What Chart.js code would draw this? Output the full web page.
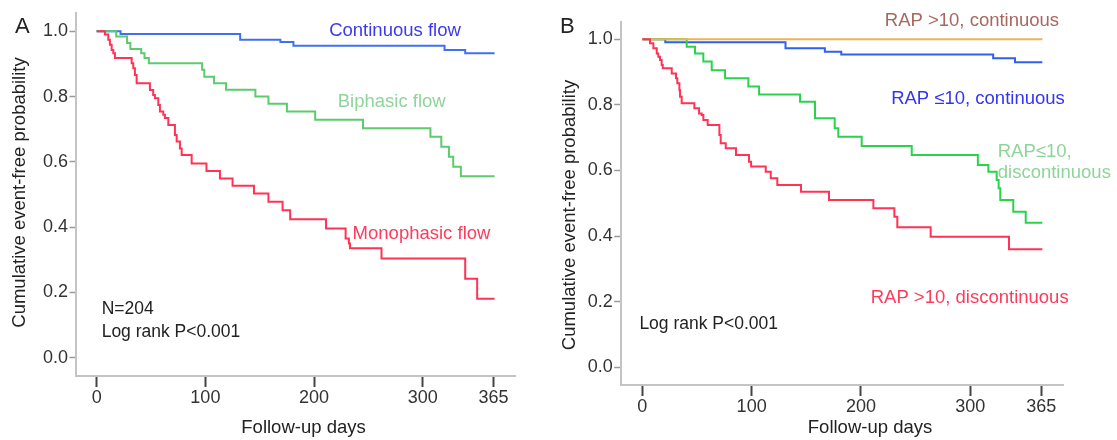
<!DOCTYPE html>
<html><head><meta charset="utf-8">
<script src="https://cdn.jsdelivr.net/npm/chart.js@4.4.1/dist/chart.umd.min.js"></script>
<style>
html,body{margin:0;padding:0;background:#fff;}
#wrap{position:relative;width:1117px;height:440px;overflow:hidden;}
#cA{position:absolute;left:0;top:0;}
#cB{position:absolute;left:548px;top:0;}
</style></head><body>
<div id="wrap">
<canvas id="cA" width="548" height="440"></canvas>
<canvas id="cB" width="569" height="440"></canvas>
</div>
<script>
// ---------- data ----------
const xTicks = [0, 100, 200, 300, 365];
const yTicks = [0, 0.2, 0.4, 0.6, 0.8, 1.0];

// Panel A
const aContinuousDays = [0, 22, 132, 169, 181, 320, 339, 366];
const aContinuousSurv = [1.0, 0.992, 0.974, 0.967, 0.956, 0.943, 0.933, 0.933];

const aBiphasicDays = [0, 18, 28, 31, 41, 44, 48, 97, 99, 108, 119, 146, 158, 175, 201, 245, 307, 317, 324, 328, 335, 366];
const aBiphasicSurv = [1.0, 0.984, 0.964, 0.946, 0.933, 0.918, 0.902, 0.882, 0.861, 0.841, 0.821, 0.800, 0.778, 0.754, 0.729, 0.703, 0.677, 0.646, 0.616, 0.585, 0.556, 0.556];

const aMonophasicDays = [0, 7.6, 10.7, 12.2, 13.8, 15.3, 16.8, 32.2, 33.7, 35.2, 36.8, 49, 52, 53.6, 56.7, 58.2, 61.3, 62.8, 65.9, 72, 73.6, 76.6, 78.2, 87.4, 101, 113.4, 125, 144.7, 158, 171, 178, 211, 229, 232, 233, 262, 339, 350, 366];
const aMonophasicSurv = [1.0, 0.990, 0.974, 0.959, 0.943, 0.933, 0.918, 0.902, 0.887, 0.866, 0.841, 0.820, 0.805, 0.795, 0.774, 0.754, 0.744, 0.734, 0.713, 0.682, 0.662, 0.641, 0.621, 0.595, 0.572, 0.549, 0.527, 0.503, 0.478, 0.452, 0.424, 0.396, 0.365, 0.350, 0.335, 0.304, 0.242, 0.181, 0.181];

// Panel B
const bHighContDays = [0, 366];
const bHighContSurv = [1.0, 1.0];

const bLowContDays = [0, 21, 131, 167, 182, 321, 341, 366];
const bLowContSurv = [1.0, 0.991, 0.973, 0.962, 0.954, 0.942, 0.930, 0.930];

const bLowDiscDays = [0, 40.6, 48.2, 55.8, 63.5, 75.7, 97, 106.8, 144.3, 158, 176, 179.3, 200.7, 246.5, 307, 316.6, 324.2, 326, 327.5, 339.4, 350.8, 366];
const bLowDiscSurv = [1.0, 0.977, 0.957, 0.932, 0.906, 0.881, 0.856, 0.832, 0.810, 0.759, 0.729, 0.703, 0.675, 0.647, 0.617, 0.596, 0.571, 0.546, 0.510, 0.474, 0.441, 0.441];

const bHighDiscDays = [0, 7.0, 10.1, 13.2, 14.6, 16.2, 17.7, 18.7, 26.9, 30.8, 32.0, 33.9, 34.5, 36.0, 47.6, 51.9, 54.3, 55.8, 59.8, 70.5, 71.7, 76.3, 85.7, 97.6, 99.5, 112.9, 117.5, 123.5, 145.2, 170.8, 211.4, 230.6, 233.3, 263.8, 335.5, 366];
const bHighDiscSurv = [1.0, 0.988, 0.973, 0.957, 0.947, 0.937, 0.922, 0.912, 0.896, 0.881, 0.866, 0.845, 0.825, 0.805, 0.790, 0.774, 0.769, 0.754, 0.739, 0.708, 0.683, 0.668, 0.647, 0.627, 0.612, 0.596, 0.576, 0.556, 0.535, 0.510, 0.485, 0.459, 0.427, 0.398, 0.360, 0.360];

// ---------- helpers ----------
const FONT = "'Liberation Sans', Arial, Helvetica, sans-serif";
Chart.defaults.font.family = FONT;

function pts(days, surv) { return days.map((d, i) => ({ x: d, y: surv[i] })); }
function ds(days, surv, color) {
  return { data: pts(days, surv), borderColor: color, borderWidth: 2, stepped: 'before',
           pointRadius: 0, fill: false, tension: 0 };
}
function textPlugin(items) {
  return {
    id: 'texts',
    afterDraw(chart) {
      const ctx = chart.ctx, xs = chart.scales.x, ys = chart.scales.y;
      ctx.save();
      for (const t of items) {
        ctx.font = t.font || ('18.5px ' + FONT);
        ctx.fillStyle = t.color || '#222';
        ctx.textAlign = t.align || 'left';
        ctx.textBaseline = 'alphabetic';
        const x = (t.px !== undefined) ? t.px : xs.getPixelForValue(t.day);
        const y = (t.py !== undefined) ? t.py : ys.getPixelForValue(t.val);
        if (t.rot) {
          ctx.save(); ctx.translate(x, y); ctx.rotate(-Math.PI / 2);
          ctx.fillText(t.text, 0, 0); ctx.restore();
        } else {
          ctx.fillText(t.text, x, y);
        }
      }
      ctx.restore();
    }
  };
}
function makeOptions(o) {
  return {
    responsive: false, animation: false, events: [],
    layout: { padding: { left: 0, right: o.padRight, top: o.padTop, bottom: 0 } },
    plugins: { legend: { display: false }, tooltip: { enabled: false } },
    scales: {
      x: {
        type: 'linear', min: o.xMin, max: o.xMax,
        afterBuildTicks: s => { s.ticks = xTicks.map(v => ({ value: v })); },
        afterFit: s => { s.height = o.xHeight; },
        ticks: { autoSkip: false, maxRotation: 0, padding: 0, color: '#333',
                 font: { size: 18, family: FONT }, callback: v => String(v) },
        grid: { drawOnChartArea: false, drawTicks: true, tickLength: 11, tickWidth: 2, tickColor: '#444' },
        border: { display: true, color: '#c4c4c4', width: 2 }
      },
      y: {
        type: 'linear', min: o.yMin, max: o.yMax,
        afterBuildTicks: s => { s.ticks = yTicks.map(v => ({ value: v })); },
        afterFit: s => { s.width = o.yWidth; },
        ticks: { autoSkip: false, padding: 1.5, color: '#333',
                 font: { size: 18, family: FONT }, callback: v => Number(v).toFixed(1) },
        grid: { drawOnChartArea: false, drawTicks: true, tickLength: 6.5, tickWidth: 1.5, tickColor: '#9a9a9a' },
        border: { display: true, color: '#c4c4c4', width: 2 }
      }
    }
  };
}

// ---------- Panel A ----------
const textsA = [
  { text: 'A', px: 15, py: 33.3, font: '22px ' + FONT, color: '#222' },
  { text: 'Cumulative event-free probability', px: 25, py: 192.5, rot: true, align: 'center', color: '#222' },
  { text: 'Follow-up days', px: 303.5, py: 433, align: 'center', color: '#222' },
  { text: 'Continuous flow', day: 274.4, val: 0.986, align: 'center', color: '#3a3af0' },
  { text: 'Biphasic flow', day: 271.4, val: 0.769, align: 'center', color: '#8fd49a' },
  { text: 'Monophasic flow', day: 298.8, val: 0.363, align: 'center', color: '#ff3a5c' },
  { text: 'N=204', day: 4.6, val: 0.135, align: 'left', color: '#222', font: '17.5px ' + FONT },
  { text: 'Log rank P<0.001', day: 4.6, val: 0.0633, align: 'left', color: '#222', font: '17.5px ' + FONT }
];
new Chart(document.getElementById('cA'), {
  type: 'line',
  data: { datasets: [
    ds(aMonophasicDays, aMonophasicSurv, '#ff3355'),
    ds(aBiphasicDays, aBiphasicSurv, '#5ccb6c'),
    ds(aContinuousDays, aContinuousSurv, '#3f6ff2')
  ] },
  options: makeOptions({ padRight: 33, padTop: 13, xMin: -19, xMax: 384.8, yMin: -0.056, yMax: 1.056,
                         xHeight: 64, yWidth: 76 }),
  plugins: [textPlugin(textsA)]
});

// ---------- Panel B ----------
const textsB = [
  { text: 'B', px: 12, py: 33.3, font: '22px ' + FONT, color: '#222' },
  { text: 'Cumulative event-free probability', px: 27, py: 215, rot: true, align: 'center', color: '#222' },
  { text: 'Follow-up days', px: 322, py: 433, align: 'center', color: '#222' },
  { text: 'RAP >10, continuous', day: 301.6, val: 1.0405, align: 'center', color: '#a8675f' },
  { text: 'RAP \u226410, continuous', day: 307.1, val: 0.802, align: 'center', color: '#3535f0' },
  { text: 'RAP\u226410,', day: 325.2, val: 0.642, align: 'left', color: '#8fd49a' },
  { text: 'discontinuous', day: 325.2, val: 0.576, align: 'left', color: '#8fd49a' },
  { text: 'RAP >10, discontinuous', day: 299.5, val: 0.197, align: 'center', color: '#ff3a5c' },
  { text: 'Log rank P<0.001', day: -2.7, val: 0.116, align: 'left', color: '#222', font: '17.5px ' + FONT }
];
new Chart(document.getElementById('cB'), {
  type: 'line',
  data: { datasets: [
    ds(bHighDiscDays, bHighDiscSurv, '#ff3355'),
    ds(bHighContDays, bHighContSurv, '#f5b050'),
    ds(bLowDiscDays, bLowDiscSurv, '#2bd24c'),
    ds(bLowContDays, bLowContSurv, '#2f60f0')
  ] },
  options: makeOptions({ padRight: 54, padTop: 21.7, xMin: -19.8, xMax: 384.9, yMin: -0.054, yMax: 1.0537,
                         xHeight: 55, yWidth: 72.7 }),
  plugins: [textPlugin(textsB)]
});
</script>
</body></html>
